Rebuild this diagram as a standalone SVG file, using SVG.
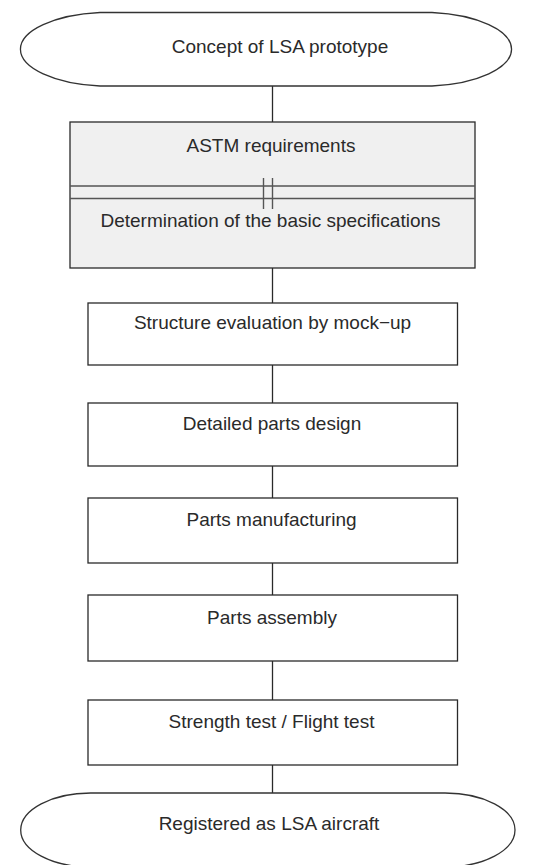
<svg xmlns="http://www.w3.org/2000/svg" width="534" height="865" viewBox="0 0 534 865">
  <style>
    .box { fill: #ffffff; stroke: #2a2a2a; stroke-width: 1.3; }
    .shaded { fill: #f0f0f0; stroke: #2a2a2a; stroke-width: 1.3; }
    .term { fill: #ffffff; stroke: #333333; stroke-width: 1.3; }
    .sep { stroke: #555555; stroke-width: 1.4; fill: none; }
    .link { stroke: #2a2a2a; stroke-width: 1.3; fill: none; }
    .label { font-family: "Liberation Sans", Arial, sans-serif; font-size: 19px; fill: #2a2a2a; text-anchor: middle; }
  </style>
  <rect width="534" height="865" fill="#ffffff"/>

  <!-- connectors -->
  <g id="connectors">
    <line class="link" x1="272.5" y1="86" x2="272.5" y2="122"/>
    <line class="link" x1="272.5" y1="268" x2="272.5" y2="303"/>
    <line class="link" x1="272.5" y1="365" x2="272.5" y2="403"/>
    <line class="link" x1="272.5" y1="466" x2="272.5" y2="498"/>
    <line class="link" x1="272.5" y1="563" x2="272.5" y2="595"/>
    <line class="link" x1="272.5" y1="661" x2="272.5" y2="700"/>
    <line class="link" x1="272.5" y1="765" x2="272.5" y2="793"/>
  </g>

  <!-- start terminator -->
  <g id="start">
    <path class="term" d="M100,12.5 H432 A90,37 0 0 1 432,86 H100 A90,37 0 0 1 100,12.5 Z"/>
    <text class="label" x="280" y="53">Concept of LSA prototype</text>
  </g>

  <!-- requirements / specifications block -->
  <g id="requirements">
    <rect class="shaded" x="70" y="122" width="405" height="146"/>
    <line class="sep" x1="70" y1="186" x2="475" y2="186"/>
    <line class="sep" x1="70" y1="198.5" x2="475" y2="198.5"/>
    <line class="sep" x1="263.5" y1="178" x2="263.5" y2="209"/>
    <line class="sep" x1="272.5" y1="178" x2="272.5" y2="209"/>
    <text class="label" x="271" y="152">ASTM requirements</text>
    <text class="label" x="270.5" y="227">Determination of the basic specifications</text>
  </g>

  <g id="mockup">
    <rect class="box" x="88" y="303" width="369.5" height="62"/>
    <text class="label" x="272.5" y="329">Structure evaluation by mock−up</text>
  </g>

  <g id="design">
    <rect class="box" x="88" y="403" width="369.5" height="63"/>
    <text class="label" x="272" y="430">Detailed parts design</text>
  </g>

  <g id="manufacturing">
    <rect class="box" x="88" y="498" width="369.5" height="65"/>
    <text class="label" x="271.5" y="526">Parts manufacturing</text>
  </g>

  <g id="assembly">
    <rect class="box" x="88" y="595" width="369.5" height="66"/>
    <text class="label" x="272" y="624">Parts assembly</text>
  </g>

  <g id="testing">
    <rect class="box" x="88" y="700" width="369.5" height="65"/>
    <text class="label" x="271.5" y="728">Strength test / Flight test</text>
  </g>

  <!-- end terminator -->
  <g id="end">
    <path class="term" d="M90.7,793 H445 A70,37 0 0 1 445,867 H90.7 A70,37 0 0 1 90.7,793 Z"/>
    <text class="label" x="269" y="830">Registered as LSA aircraft</text>
  </g>
</svg>
